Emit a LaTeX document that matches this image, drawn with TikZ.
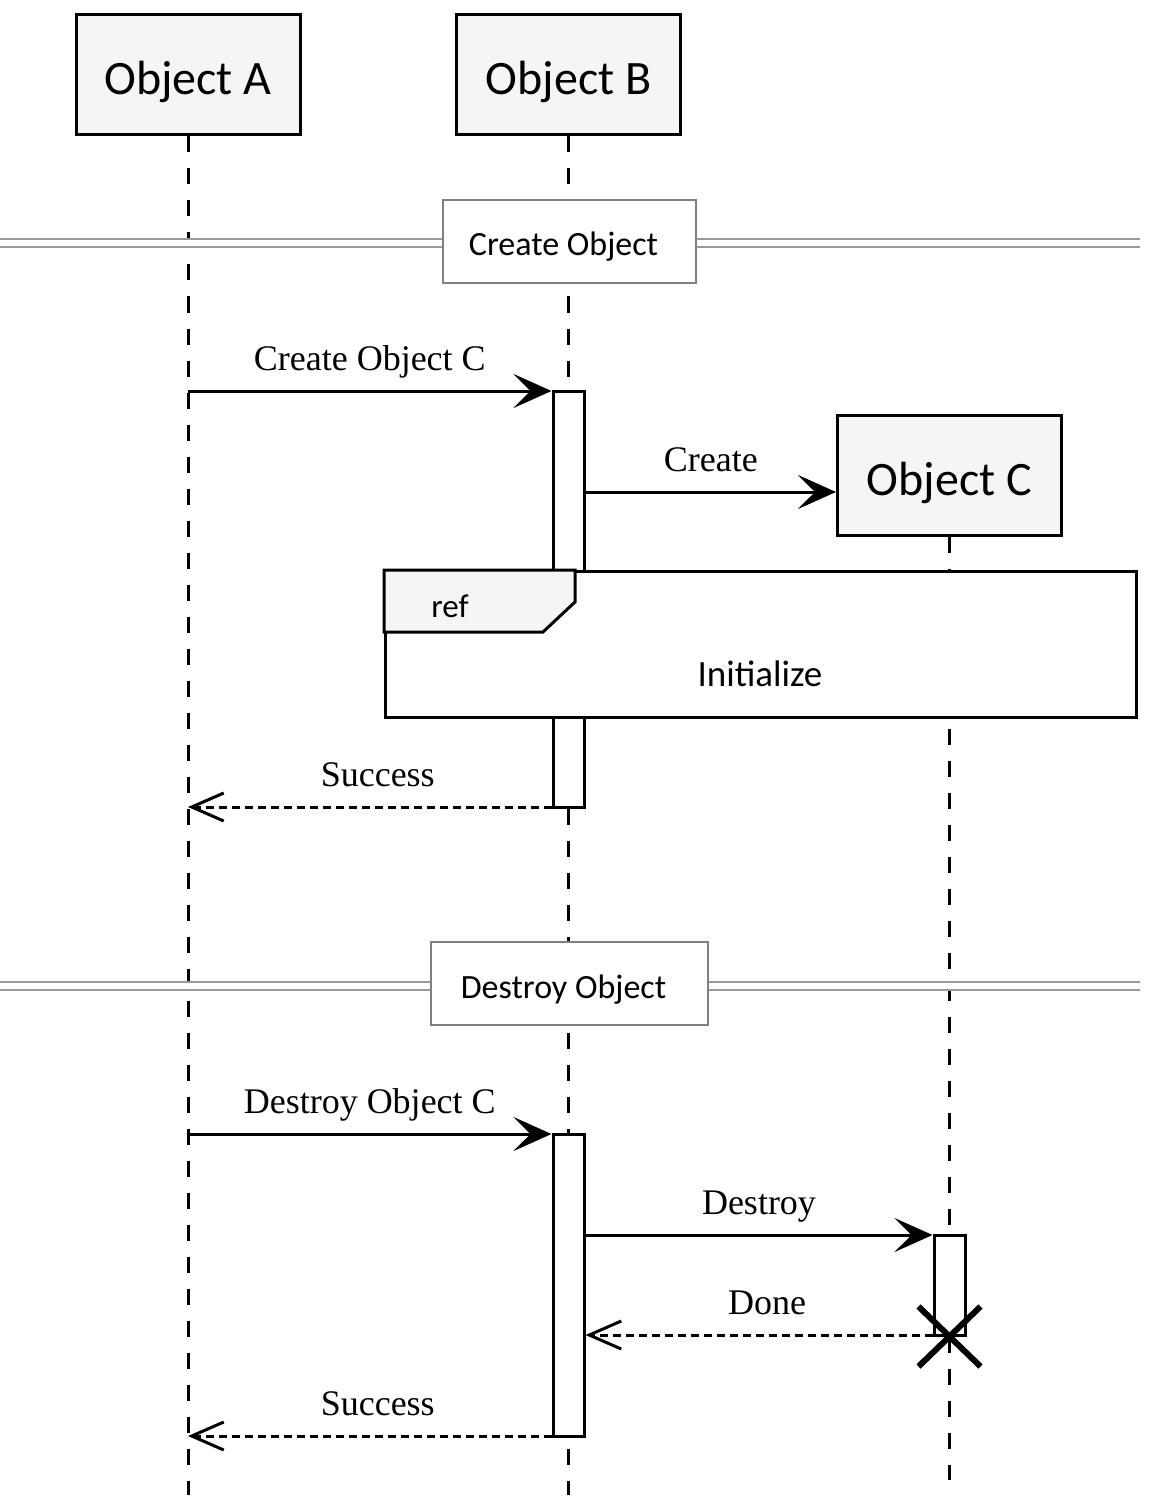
\documentclass[tikz,border=0pt]{standalone}
\usepackage{fontspec}
\setmainfont{Liberation Serif}
\setsansfont{Carlito}
\usetikzlibrary{arrows.meta,positioning,calc}

\begin{document}
\begin{tikzpicture}[x=1pt,y=-1pt,
  obj/.style={draw,line width=3pt,fill=black!4,minimum width=224pt,minimum height=120pt,inner sep=0pt,text height=40pt,text depth=0pt,font=\sffamily\fontsize{48}{56}\selectfont},
  life/.style={line width=3pt,dash pattern=on 16pt off 16pt},
  act/.style={draw,line width=3pt,fill=white,minimum width=31pt,inner sep=0pt},
  sect/.style={draw=black!50,line width=2.5pt,fill=white,minimum height=83pt,inner sep=0pt,text height=29pt,text depth=0pt,font=\sffamily\fontsize{34}{40}\selectfont},
  divider/.style={draw=black!40,line width=2pt,double=white,double distance=6pt},
  msg/.style={line width=3pt,-{Stealth[length=38pt,width=34pt,inset=17pt]}},
  ret/.style={line width=3pt,dash pattern=on 8pt off 5pt,-{Straight Barb[length=32pt,width=28pt]}},
  lbl/.style={anchor=base,yshift=21pt,font=\fontsize{36}{42}\selectfont},
  rlbl/.style={lbl,xshift=8pt}]
\useasboundingbox (0,0) rectangle (1159,1511);
% objects
\node[obj] (A) at (188,75) {Object A};
\node[obj] (B) at (568.5,75) {Object B};
\node[obj] (C) at (949.5,475.5) {Object C};
% message rows
\coordinate (r1) at (0,391);
\coordinate (r2) at (0,492);
\coordinate (r3) at (0,807);
\coordinate (r4) at (0,1134);
\coordinate (r5) at (0,1235);
\coordinate (r6) at (0,1335);
\coordinate (r7) at (0,1436);
\coordinate (Aend) at (0,1495);
\coordinate (Cend) at (0,1480);
% lifelines
\draw[life] (A.south) -- (A.south|-Aend);
\draw[life] (B.south) -- (B.south|-Aend);
\draw[life] (C.south) -- (C.south|-Cend);
% sections
\draw[divider] (0,243.5) -- (1140,243.5);
\node[sect,minimum width=253pt] (s1) at (569.5,241.5) {Create Object\hspace*{12pt}};
\draw[divider] (0,986) -- (1140,986);
\node[sect,minimum width=277pt] (s2) at (569.5,983.5) {Destroy Object\hspace*{12pt}};
% activations
\node[act,minimum height=416pt] (b1) at (568.5,599) {};
\node[act,minimum height=302pt] (b2) at (568.5,1285) {};
\node[act,minimum height=100pt] (c1) at (949.5,1285) {};
% ref frame
\node[draw,line width=3pt,fill=white,minimum width=751pt,minimum height=146pt,anchor=north west,inner sep=0pt] (ref) at (384,570) {};
\draw[line width=3pt,fill=black!4] (ref.north west) -- ++(191,0) -- ++(0,32) -- ++(-32,30) -- ++(-159,0) -- cycle;
\node[font=\sffamily\fontsize{33}{38}\selectfont,text depth=0pt] (reftag) at (450,606) {ref};
\node[font=\sffamily\fontsize{37}{42}\selectfont,text depth=0pt] (init) at (760,674) {Initialize};
% messages
\draw[msg] (A.south|-r1) -- node[lbl] {Create Object C} (b1.west|-r1);
\draw[msg] (b1.east|-r2) -- node[lbl] {Create} (C.west|-r2);
\draw[ret] (b1.west|-r3) -- node[rlbl] {Success} (A.south|-r3);
\draw[msg] (A.south|-r4) -- node[lbl] {Destroy Object C} (b2.west|-r4);
\draw[msg] (b2.east|-r5) -- node[lbl] {Destroy} (c1.west|-r5);
\draw[ret] (c1.west|-r6) -- node[rlbl] {Done} (b2.east|-r6);
\draw[ret] (b2.west|-r7) -- node[rlbl] {Success} (A.south|-r7);
% destruction
\draw[line width=6pt] ($(c1.south)+(-31,-30)$) -- ($(c1.south)+(31,30)$);
\draw[line width=6pt] ($(c1.south)+(-31,30)$) -- ($(c1.south)+(31,-30)$);
\end{tikzpicture}
\end{document}
